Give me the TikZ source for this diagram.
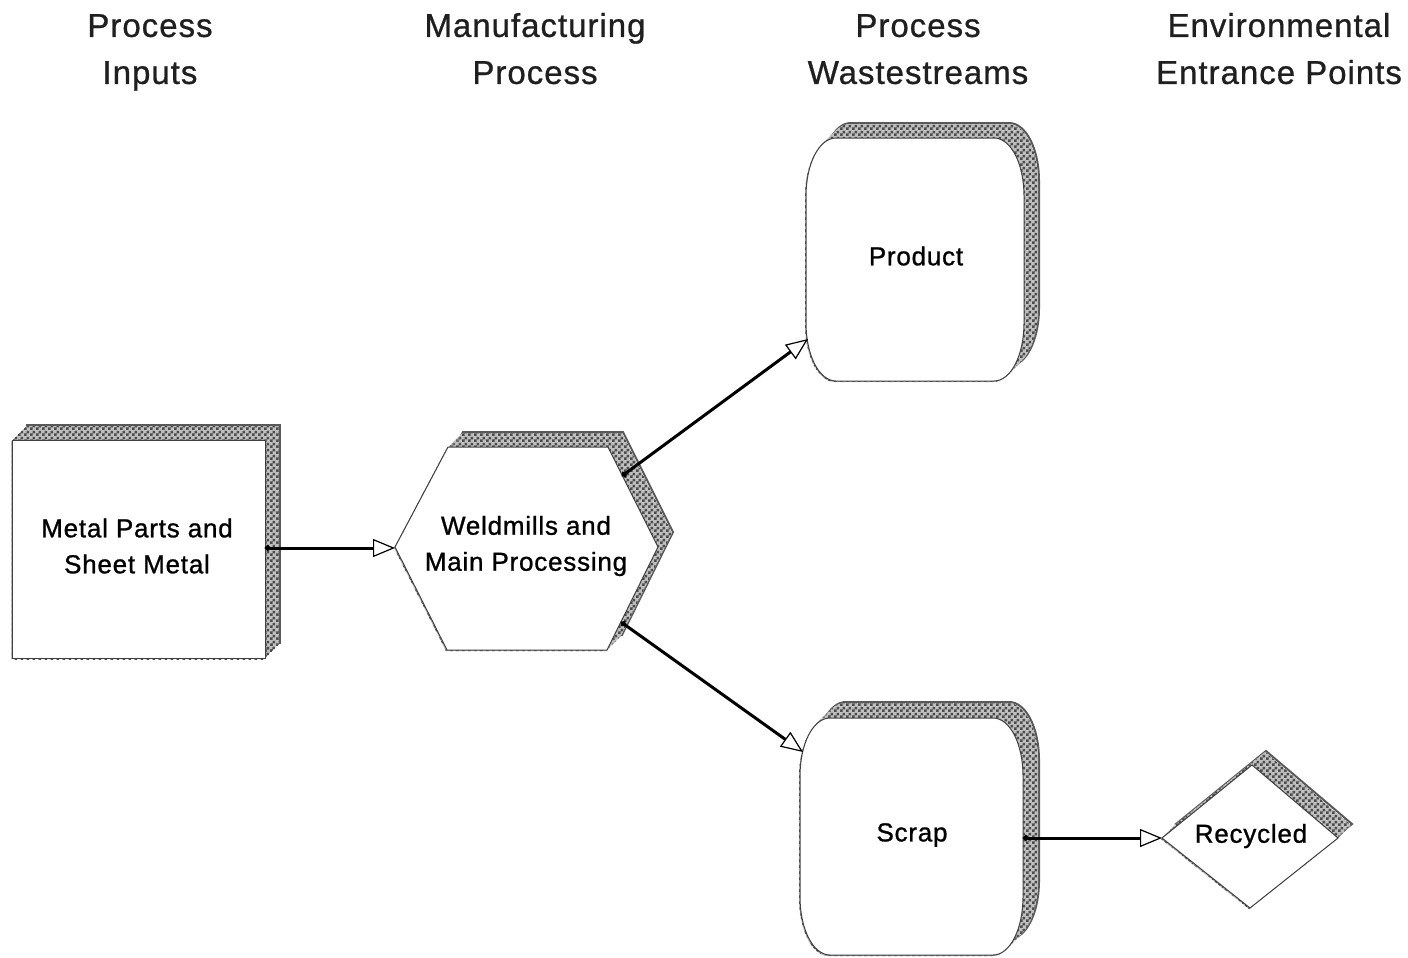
\documentclass[tikz,border=0pt]{standalone}
\usepackage{fontspec}
\setmainfont{Liberation Sans}
\usetikzlibrary{arrows.meta,patterns}

% fine checkered dot screen used on the extruded sides
\pgfdeclarepatternformonly{finecheck}{\pgfpointorigin}{\pgfqpoint{3pt}{3pt}}{\pgfqpoint{3pt}{3pt}}{%
  \pgfpathrectangle{\pgfpointorigin}{\pgfqpoint{1.5pt}{1.5pt}}%
  \pgfpathrectangle{\pgfqpoint{1.5pt}{1.5pt}}{\pgfqpoint{1.5pt}{1.5pt}}%
  \pgfusepath{fill}}

\tikzset{
  header/.style={font=\fontsize{16.5}{23.5}\selectfont\addfontfeatures{LetterSpace=3,FakeBold=0.8}, text=black!88, align=center},
  boxlabel/.style={font=\fontsize{13}{18}\selectfont\addfontfeatures{LetterSpace=3,FakeBold=1}, text=black, align=center},
  face/.style={fill=white, draw=black!75, line width=0.5pt},
  side/.style={fill=gray!50, draw=none, postaction={pattern=finecheck, pattern color=black!70}},
  sideedge/.style={draw=black!65, line width=1pt},
  flow/.style={draw=black, line width=1.5pt,
    {Circle[length=2.8pt]}-{Triangle[fill=white, length=11pt, width=9pt, line width=0.6pt]}}
}

% an extruded solid: back outline, swept shading over its inner part, then the front face
\newcommand\solidshape[2]{%
  \draw[sideedge, shift={(#1,-#1)}] #2;
  \foreach \k in {0,...,#1}{\fill[side, shift={(\k-1,-\k+1)}] #2;}
  \draw[face] #2;
}

\begin{document}
\begin{tikzpicture}[x=0.5pt, y=-0.5pt]
\fill[white] (0,0) rectangle (1408,958);
\useasboundingbox (0,0) rectangle (1408,958);

% column headings
\node[header] (hIn)    at (150,51)  {Process\strut\\Inputs\strut};
\node[header] (hMan)   at (535,51)  {Manufacturing\strut\\Process\strut};
\node[header] (hWaste) at (918,51)  {Process\strut\\Wastestreams\strut};
\node[header] (hEnv)   at (1279,51) {Environmental\strut\\Entrance Points\strut};

% input block
\solidshape{15}{(12,440) rectangle (265,658)}

% processing hexagon
\solidshape{15}{(395,547) -- (448,447) -- (608,447) -- (658,547) -- (607,650) -- (447,650) -- cycle}

% product wastestream
\solidshape{15}{(806,196) .. controls (806,164) and (819,138) .. (836,138) -- (994,138)
  .. controls (1011,138) and (1024,164) .. (1024,196) -- (1024,323)
  .. controls (1024,355) and (1011,381) .. (994,381) -- (836,381)
  .. controls (819,381) and (806,355) .. (806,323) -- cycle}

% scrap wastestream
\solidshape{16}{(800,776) .. controls (800,744) and (813,718) .. (830,718) -- (993,718)
  .. controls (1010,718) and (1023,744) .. (1023,776) -- (1023,897)
  .. controls (1023,929) and (1010,955) .. (993,955) -- (830,955)
  .. controls (813,955) and (800,929) .. (800,897) -- cycle}

% recycling entrance point
\solidshape{14}{(1162,838) -- (1252,765) -- (1338,838) -- (1250,908) -- cycle}

% labels
\node[boxlabel] (metal)    at (137,546)  {Metal Parts and\\Sheet Metal};
\node[boxlabel] (weld)     at (526,546)  {Weldmills and\\Main Processing};
\node[boxlabel] (product)  at (916,256)  {Product};
\node[boxlabel] (scrap)    at (912,835)  {Scrap};
\node[boxlabel] (recycled) at (1251,836) {Recycled};

% connector end points on the shape outlines
\coordinate (metalR)    at (265,548);
\coordinate (weldL)     at (395,548);
\coordinate (weldUR)    at (622,476);
\coordinate (productL)  at (808,339);
\coordinate (weldLR)    at (621,622);
\coordinate (scrapL)    at (803,752);
\coordinate (scrapR)    at (1023,838);
\coordinate (recycledL) at (1162,838);

% flows
\draw[flow] (metalR) -- (weldL);
\draw[flow] (weldUR) -- (productL);
\draw[flow] (weldLR) -- (scrapL);
\draw[flow] (scrapR) -- (recycledL);
\end{tikzpicture}
\end{document}
